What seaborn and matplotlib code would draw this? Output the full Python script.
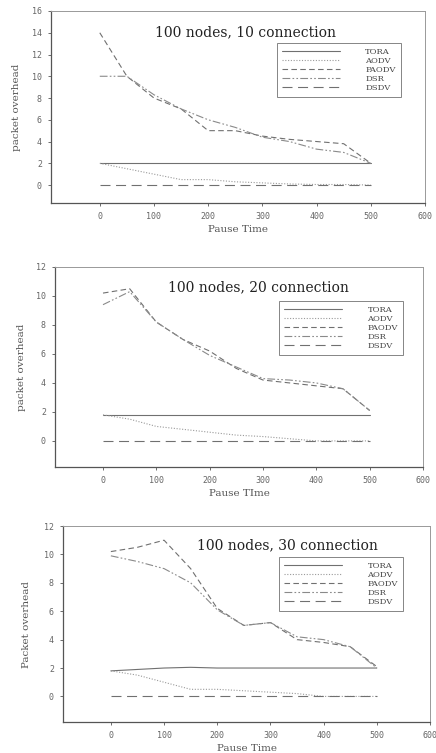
import numpy as np
import pandas as pd
import matplotlib
matplotlib.use("Agg")
import matplotlib.pyplot as plt
import seaborn as sns

# pause times shared by all three panels
pause_time = [0, 50, 100, 150, 200, 250, 300, 350, 400, 450, 500]
protocols = ["TORA", "AODV", "PAODV", "DSR", "DSDV"]

# 100 nodes, 10 connection
tora_10 = [2, 2, 2, 2, 2, 2, 2, 2, 2, 2, 2]
aodv_10 = [2, 1.5, 1.0, 0.5, 0.5, 0.3, 0.2, 0.1, 0.05, 0.05, 0]
paodv_10 = [14, 10, 8, 7, 5, 5, 4.5, 4.2, 4.0, 3.8, 2]
dsr_10 = [10, 10, 8.3, 7, 6, 5.3, 4.4, 4.0, 3.3, 3.0, 2]
dsdv_10 = [0, 0, 0, 0, 0, 0, 0, 0, 0, 0, 0]

# 100 nodes, 20 connection
tora_20 = [1.8, 1.8, 1.8, 1.8, 1.8, 1.8, 1.8, 1.8, 1.8, 1.8, 1.8]
aodv_20 = [1.8, 1.5, 1.0, 0.8, 0.6, 0.4, 0.3, 0.15, 0, 0, 0]
paodv_20 = [10.2, 10.5, 8.2, 7.0, 6.2, 5.0, 4.2, 4.0, 3.8, 3.6, 2.1]
dsr_20 = [9.4, 10.3, 8.2, 7.0, 5.9, 5.1, 4.3, 4.2, 4.0, 3.6, 2.1]
dsdv_20 = [0, 0, 0, 0, 0, 0, 0, 0, 0, 0, 0]

# 100 nodes, 30 connection
tora_30 = [1.8, 1.9, 2.0, 2.05, 2.0, 2.0, 2.0, 2.0, 2.0, 2.0, 2.0]
aodv_30 = [1.8, 1.5, 1.0, 0.5, 0.5, 0.4, 0.3, 0.2, 0, 0, 0]
paodv_30 = [10.2, 10.5, 11.0, 9.0, 6.2, 5.0, 5.2, 4.0, 3.8, 3.5, 2.1]
dsr_30 = [9.9, 9.5, 9.0, 8.0, 6.1, 5.0, 5.2, 4.2, 4.0, 3.5, 2.0]
dsdv_30 = [0, 0, 0, 0, 0, 0, 0, 0, 0, 0, 0]

titles = ["100 nodes, 10 connection", "100 nodes, 20 connection", "100 nodes, 30 connection"]
ylabels = ["packet overhead", "packet overhead", "Packet overhead"]
xlabels = ["Pause Time", "Pause TIme", "Pause Time"]

panels = [
    [tora_10, aodv_10, paodv_10, dsr_10, dsdv_10],
    [tora_20, aodv_20, paodv_20, dsr_20, dsdv_20],
    [tora_30, aodv_30, paodv_30, dsr_30, dsdv_30],
]

# line look per protocol
styles = {
    "TORA": dict(color="#707070", dashes=None),
    "AODV": dict(color="#9a9a9a", dashes=(1, 1.5)),
    "PAODV": dict(color="#707070", dashes=(5, 3)),
    "DSR": dict(color="#8a8a8a", dashes=(7, 2, 1.5, 2, 1.5, 2)),
    "DSDV": dict(color="#707070", dashes=(9, 5)),
}

sns.set_theme(style="white")
plt.rcParams["font.family"] = ["DejaVu Serif"]

fig = plt.figure(figsize=(4.36, 7.53), dpi=100)

W, H = 436, 753
# axes boxes in pixels: left, right, top, bottom
boxes = [(51, 425, 11, 203), (55, 423, 267, 467), (63, 430, 526, 722)]
ylims = [(-1.65, 16), (-1.8, 12), (-1.8, 12)]
yticks = [np.arange(0, 17, 2), np.arange(0, 13, 2), np.arange(0, 13, 2)]
legend_pos = [(0.604, 0.833), (0.609, 0.83), (0.589, 0.843)]
title_pos = [(0.519, 0.89), (0.553, 0.898), (0.612, 0.903)]
ylabel_pad = [8, 7, 9]

for i, series in enumerate(panels):
    l, r, t, b = boxes[i]
    ax = fig.add_axes([l / W, 1 - b / H, (r - l) / W, (b - t) / H])
    for name, vals in zip(protocols, series):
        st = styles[name]
        sns.lineplot(x=pause_time, y=vals, ax=ax, color=st["color"],
                     linewidth=0.8, label=name)
        if st["dashes"] is not None:
            ax.lines[-1].set_dashes(st["dashes"])
    ax.set_xlim(-90, 600)
    ax.set_ylim(*ylims[i])
    ax.set_xticks([0, 100, 200, 300, 400, 500, 600])
    ax.set_yticks(yticks[i])
    ax.tick_params(axis="both", labelsize=6, colors="#555555", length=2.5,
                   width=0.6, direction="out", pad=4)
    ax.tick_params(axis="both", left=True, bottom=True)
    for lab in ax.get_xticklabels() + ax.get_yticklabels():
        lab.set_fontfamily("DejaVu Sans Mono")
        lab.set_color("#666666")
    for side in ["left", "bottom"]:
        ax.spines[side].set_color("#555555")
        ax.spines[side].set_linewidth(0.9)
    for side in ["top", "right"]:
        ax.spines[side].set_color("#999999")
        ax.spines[side].set_linewidth(0.7)
    ax.set_xlabel(xlabels[i], fontsize=7.5, color="#555555", labelpad=3)
    ax.set_ylabel(ylabels[i], fontsize=7.5, color="#555555", labelpad=ylabel_pad[i])
    ax.text(title_pos[i][0], title_pos[i][1], titles[i], transform=ax.transAxes,
            ha="center", va="center", fontsize=10, color="#222222")
    leg = ax.legend(loc="upper left", bbox_to_anchor=legend_pos[i], fontsize=6,
                    frameon=True, fancybox=False, handlelength=7, handletextpad=3,
                    labelspacing=0.12, borderpad=0.6, borderaxespad=0)
    leg.get_frame().set_edgecolor("#666666")
    leg.get_frame().set_linewidth(0.7)
    for txt in leg.get_texts():
        txt.set_color("#444444")

fig.savefig("out.png", dpi=100)
